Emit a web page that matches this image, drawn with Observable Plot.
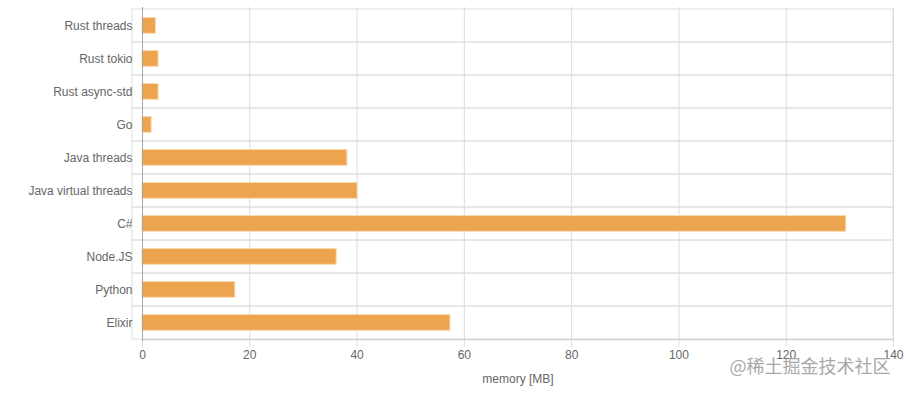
<!DOCTYPE html>
<html>
<head>
<meta charset="utf-8">
<script src="https://cdn.jsdelivr.net/npm/d3@7"></script>
<script src="https://cdn.jsdelivr.net/npm/@observablehq/plot@0.6"></script>
<style>
  html, body { margin: 0; padding: 0; background: #fff; }
  #chart { width: 906px; height: 394px; }
</style>
</head>
<body>
<div id="chart"></div>
<script>
const categories = ["Rust threads", "Rust tokio", "Rust async-std", "Go", "Java threads", "Java virtual threads", "C#", "Node.JS", "Python", "Elixir"];
const memory = [2.5, 3.0, 3.0, 1.7, 38.2, 40.1, 131.2, 36.2, 17.3, 57.4];
const xTicks = [0, 20, 40, 60, 80, 100, 120, 140];
const axisLabel = "memory [MB]";
const watermark = "@稀土掘金技术社区";

const data = categories.map((c, i) => ({name: c, value: memory[i]}));
const bottomLine = [{x: 0, name: categories[categories.length - 1]}, {x: 140, name: categories[categories.length - 1]}];

const chart = Plot.plot({
  width: 906,
  height: 394,
  marginLeft: 142,
  marginRight: 13,
  marginTop: 7,
  marginBottom: 53,
  style: {fontFamily: "'Liberation Sans', Arial, sans-serif", fontSize: "12px", color: "#666", background: "#fff"},
  x: {domain: [0, 140], ticks: xTicks},
  y: {domain: categories, padding: 0, align: 0.5},
  marks: [
    // horizontal band grid lines (extend left as ticks)
    Plot.cell(categories, {y: d => d, fill: "none", stroke: "#e0e0e0", insetLeft: -10}),
    // vertical grid lines
    Plot.ruleX(xTicks, {stroke: "#dcdcdc"}),
    Plot.barX(data, {y: "name", x: "value", fill: "#eca44f", stroke: "#f9dab0", strokeWidth: 1, insetTop: 8.5, insetBottom: 8.7}),
    // bottom axis line
    Plot.line(bottomLine, {x: "x", y: "name", dy: 16.7, stroke: "#c8c8c8", strokeWidth: 1}),
    Plot.ruleX([0], {stroke: "#a8a8a8"}),
    Plot.axisX({ticks: xTicks, tickSize: 6, stroke: "#dcdcdc", tickPadding: 3, fill: "#666", label: null, fontSize: 12}),
    Plot.axisY({tickSize: 0, tickPadding: 10, fill: "#666", label: null, fontSize: 12}),
    Plot.text([axisLabel], {frameAnchor: "bottom", dy: 41, fill: "#666", fontSize: 12}),
    Plot.text([watermark], {frameAnchor: "bottom-right", dx: -3, dy: 31, textAnchor: "end", fill: "#a8a8a8", fontSize: 18, fontFamily: "'Noto Sans CJK SC', sans-serif"})
  ]
});
document.getElementById("chart").appendChild(chart);
</script>
</body>
</html>
